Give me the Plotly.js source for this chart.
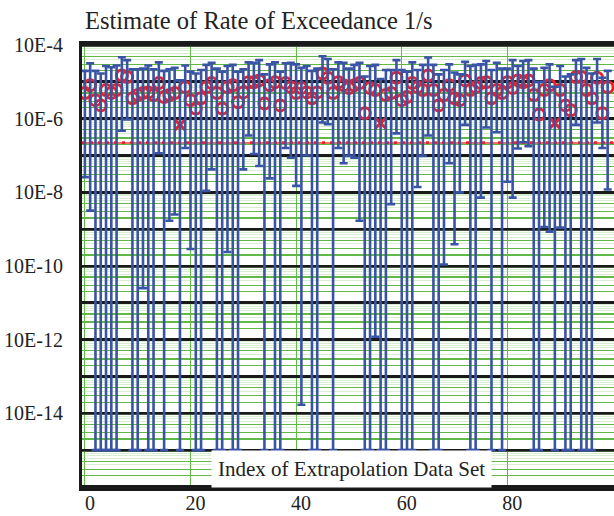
<!DOCTYPE html>
<html>
<head>
<meta charset="utf-8">
<script src="https://cdn.plot.ly/plotly-3.0.1.min.js"></script>
<style>html,body{margin:0;padding:0;background:#fff}#chart{width:614px;height:516px}</style>
</head>
<body>
<div id="chart"></div>
<script>
// Index of extrapolation data set: 0..99
const upperBound = [
  2.0e-5, 3.2e-5, 2.0e-5, 1.7e-5, 2.7e-5, 2.5e-5, 2.8e-5, 4.7e-5, 3.9e-5, 2.2e-5,
  2.2e-5, 2.3e-5, 2.8e-5, 2.2e-5, 3.4e-5, 2.0e-5, 2.2e-5, 2.4e-5, 1.1e-5, 2.8e-5,
  1.9e-5, 1.7e-5, 2.1e-5, 2.9e-5, 3.3e-5, 2.3e-5, 1.9e-5, 2.7e-5, 2.9e-5, 1.9e-5,
  2.2e-5, 3.4e-5, 3.3e-5, 3.9e-5, 1.6e-5, 3.0e-5, 3.4e-5, 1.9e-5, 3.2e-5, 3.3e-5,
  3.0e-5, 2.4e-5, 2.7e-5, 2.0e-5, 2.3e-5, 5.0e-5, 4.2e-5, 2.2e-5, 3.4e-5, 3.3e-5,
  2.3e-5, 2.9e-5, 3.3e-5, 1.4e-5, 2.7e-5, 2.9e-5, 1.2e-5, 2.1e-5, 2.1e-5, 3.9e-5,
  2.1e-5, 1.9e-5, 3.4e-5, 2.1e-5, 2.9e-5, 4.6e-5, 2.9e-5, 1.6e-5, 2.1e-5, 3.0e-5,
  1.8e-5, 1.6e-5, 3.5e-5, 2.7e-5, 2.9e-5, 3.0e-5, 3.7e-5, 2.1e-5, 3.3e-5, 2.3e-5,
  2.3e-5, 3.9e-5, 2.7e-5, 3.7e-5, 3.9e-5, 2.3e-5, 1.0e-5, 2.4e-5, 3.0e-5, 7.4e-6,
  2.7e-5, 1.4e-5, 1.6e-5, 3.9e-5, 4.2e-5, 2.4e-5, 1.7e-5, 4.2e-5, 1.3e-5, 2.0e-5
];
const estimate = [
  5.0e-6, 8.1e-6, 3.2e-6, 2.3e-6, 6.0e-6, 5.0e-6, 6.0e-6, 1.5e-5, 1.35e-5, 3.6e-6,
  4.4e-6, 5.0e-6, 5.2e-6, 4.4e-6, 9.3e-6, 3.9e-6, 4.4e-6, 5.0e-6, 6.8e-7, 7.2e-6,
  3.2e-6, 1.9e-6, 3.6e-6, 7.2e-6, 9.3e-6, 5.0e-6, 1.9e-6, 7.2e-6, 8.1e-6, 2.8e-6,
  5.2e-6, 9.8e-6, 9.8e-6, 1.1e-5, 2.6e-6, 8.1e-6, 9.8e-6, 2.3e-6, 9.3e-6, 7.2e-6,
  5.0e-6, 6.8e-6, 5.2e-6, 3.6e-6, 5.2e-6, 1.7e-5, 1.3e-5, 5.0e-6, 9.8e-6, 8.1e-6,
  6.8e-6, 8.1e-6, 9.3e-6, 1.4e-6, 6.8e-6, 6.0e-6, 7.6e-7, 4.4e-6, 5.0e-6, 1.3e-5,
  3.2e-6, 3.9e-6, 9.3e-6, 7.2e-6, 6.0e-6, 1.5e-5, 6.0e-6, 2.3e-6, 4.4e-6, 8.1e-6,
  3.6e-6, 3.2e-6, 1.1e-5, 6.0e-6, 7.2e-6, 9.3e-6, 9.8e-6, 3.6e-6, 6.0e-6, 5.0e-6,
  9.8e-6, 6.8e-6, 1.1e-5, 9.8e-6, 1.1e-5, 4.4e-6, 1.3e-6, 6.0e-6, 8.1e-6, 7.6e-7,
  6.0e-6, 2.3e-6, 1.7e-6, 1.35e-5, 1.35e-5, 6.0e-6, 3.6e-6, 1.3e-5, 1.4e-6, 7.2e-6
];
const lowerBound = [
  2.6e-8, 3.2e-9, 1e-15, 1e-15, 1e-15, 1e-15, 1e-15, 4.7e-7, 9.5e-7, 1e-15,
  1e-15, 2.5e-11, 1e-15, 1e-15, 1.15e-7, 1e-15, 1.7e-9, 2.5e-9, 1e-15, 1.6e-7,
  2.9e-10, 1e-15, 1e-15, 1.1e-8, 4.2e-8, 1e-15, 1e-15, 2.4e-10, 1e-15, 1e-15,
  4.2e-8, 3.5e-7, 1.1e-7, 5.2e-8, 1e-15, 2.4e-8, 1e-15, 1e-15, 1.6e-7, 8.7e-8,
  1.5e-8, 1.7e-14, 1.0e-7, 1e-15, 1e-15, 7.9e-7, 7.1e-7, 1e-15, 1.6e-7, 6.2e-8,
  9.8e-8, 8.7e-8, 1.7e-9, 1e-15, 1e-15, 1.2e-12, 1e-15, 1e-15, 4.8e-9, 4.0e-7,
  1e-15, 1e-15, 1e-15, 1.4e-8, 9.8e-8, 3.5e-7, 1e-15, 1e-15, 1.1e-10, 6.2e-8,
  3.9e-10, 1.0e-8, 6.8e-7, 1e-15, 1e-15, 7.2e-9, 5.8e-7, 1e-15, 4.3e-7, 1e-15,
  1.95e-8, 7.2e-9, 1.55e-7, 2.3e-7, 1.8e-7, 1e-15, 1e-15, 1.15e-9, 8.5e-10, 1e-15,
  1.1e-9, 1e-15, 1e-15, 6.8e-7, 1e-15, 1e-15, 1e-15, 7.9e-7, 1.6e-7, 1.2e-8
];
const referenceRate = 2.2e-7;
const yTickExponents = [-4, -5, -6, -7, -8, -9, -10, -11, -12, -13, -14, -15, -16];
const xTickVals = [0, 20, 40, 60, 80];
const titleText = 'Estimate of Rate of Exceedance 1/s';
const xTitleText = 'Index of Extrapolation Data Set';

const index = estimate.map((_, i) => i);
const plus = upperBound.map((u, i) => u - estimate[i]);
const minus = lowerBound.map((l, i) => estimate[i] - l);
const yTickVals = yTickExponents.map(e => Math.pow(10, e));
const yTickText = yTickExponents.map(e => (e % 2 === 0 && e > -16) ? '10E' + e : '');
const brightMinor = [], paleMinor = [];
for (let e = -16; e <= -4; e++) {
  for (let k = 2; k <= 9; k++) {
    const v = k * Math.pow(10, e);
    if (k === 2 || k === 3 || k === 5) brightMinor.push(v); else paleMinor.push(v);
  }
}
const yRange = [-16.03, -3.97];
const serif = 'Liberation Serif, Times New Roman, serif';
const lowSym = estimate.map(v => v < 1e-6 ? 'x-thin-open' : 'circle-open');

const traces = [
  { x: [null], y: [null], yaxis: 'y2', showlegend: false, hoverinfo: 'skip' },
  {
    x: index, y: estimate, mode: 'markers', type: 'scatter', showlegend: false,
    marker: { symbol: lowSym, size: 11, color: '#ec2227', line: { color: '#ec2227', width: 3 } }
  },
  {
    x: index, y: estimate, mode: 'markers', type: 'scatter', showlegend: false,
    marker: { size: 1, color: 'rgba(0,0,0,0)' },
    error_y: { type: 'data', symmetric: false, array: plus, arrayminus: minus,
               color: '#3a54a5', thickness: 2.6, width: 4 }
  }
];

const layout = {
  width: 614, height: 516,
  margin: { l: 82, r: 0, t: 44, b: 28 },
  paper_bgcolor: '#fff', plot_bgcolor: '#fff',
  showlegend: false,
  font: { family: serif, color: '#222', size: 20 },
  title: { text: titleText, font: { family: serif, size: 24.5, color: '#222' },
           x: 85 / 614, xanchor: 'left', xref: 'container', y: 1 - 20 / 516, yanchor: 'middle', yref: 'container' },
  xaxis: {
    range: [-0.55, 100.2], tickmode: 'array', tickvals: xTickVals,
    showgrid: true, gridcolor: '#62b845', gridwidth: 1, zeroline: false,
    showline: true, linecolor: '#1a1a1a', linewidth: 3, mirror: true,
    ticks: '', ticklabelshift: 5, ticklabelstandoff: -5,
    tickfont: { family: serif, size: 20, color: '#222' }
  },
  yaxis: {
    type: 'log', range: yRange, tickmode: 'array', tickvals: yTickVals, ticktext: yTickText,
    showgrid: true, gridcolor: '#1a1a1a', gridwidth: 3, zeroline: false,
    showline: true, linecolor: '#1a1a1a', linewidth: 3, ticks: '',
    ticklabelstandoff: 12,
    tickfont: { family: serif, size: 20, color: '#222' },
    minor: { tickmode: 'array', tickvals: brightMinor, showgrid: true, gridcolor: '#62b845', gridwidth: 1.3, ticks: '' }
  },
  yaxis2: {
    type: 'log', range: yRange, overlaying: 'y', side: 'left', tickmode: 'array', tickvals: paleMinor,
    showticklabels: false, showgrid: true, gridcolor: 'rgba(140,205,120,0.35)', gridwidth: 1, zeroline: false, ticks: ''
  },
  shapes: [
    { type: 'line', xref: 'paper', x0: 0, x1: 1, yref: 'y', y0: referenceRate, y1: referenceRate,
      layer: 'between', line: { color: 'rgba(235,100,80,0.9)', width: 2 } },
    { type: 'line', xref: 'paper', x0: 0, x1: 1, yref: 'y', y0: referenceRate, y1: referenceRate,
      layer: 'between', line: { color: '#e8262b', width: 3.5, dash: '3px,5px' } }
  ],
  annotations: [
    { text: xTitleText, xref: 'paper', yref: 'paper', x: 0.506, y: 0.043, xanchor: 'center', yanchor: 'middle',
      showarrow: false, bgcolor: '#ffffff', borderpad: 6, font: { family: serif, size: 21, color: '#222' } }
  ]
};

Plotly.newPlot('chart', traces, layout, { displayModeBar: false, staticPlot: true });
</script>
</body>
</html>
